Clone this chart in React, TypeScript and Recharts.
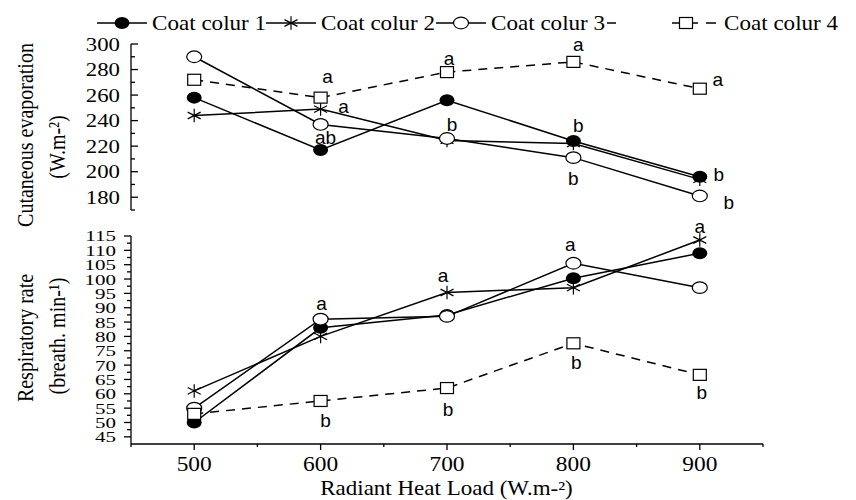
import { LabelList, Line, LineChart, XAxis, YAxis } from "recharts";

const SERIF = '"Liberation Serif", "Times New Roman", serif';
const SANS = '"Liberation Sans", Arial, sans-serif';

// radiant heat load levels (W.m-2)
const loads = [500, 600, 700, 800, 900];
const seriesNames = ["Coat colur 1", "Coat colur 2", "Coat colur 3", "Coat colur 4"];

// cutaneous evaporation (W.m-2)
const evapColour1 = [258, 217, 256, 224, 196];
const evapColour2 = [244, 249, 224.5, 222, 194];
const evapColour3 = [290, 237, 226, 211, 181];
const evapColour4 = [272, 258, 278, 286, 265];

// respiratory rate (breath. min-1)
const respColour1 = [50, 83, 87.5, 100.3, 109];
const respColour2 = [61, 80, 95.3, 97, 113.6];
const respColour3 = [55, 86, 87, 105.5, 97];
const respColour4 = [53, 57.5, 62, 77.6, 66.6];

// significance letters
const evapLetters1 = ["", "ab", "", "b", "b"];
const evapLetters2 = ["", "a", "", "", ""];
const evapLetters3 = ["", "", "b", "b", "b"];
const evapLetters4 = ["", "a", "a", "a", "a"];
const respLetters2 = ["", "", "a", "", "a"];
const respLetters3 = ["", "a", "", "a", ""];
const respLetters4 = ["", "b", "b", "b", "b"];

const xTicks = [450, 500, 550, 600, 650, 700, 750, 800, 850, 900, 950];
const xTickLabels = [500, 600, 700, 800, 900];
const evapTicks = [170, 180, 190, 200, 210, 220, 230, 240, 250, 260, 270, 280, 290, 300];
const evapTickLabels = [180, 200, 220, 240, 260, 280, 300];
const respTicks = [
  45, 47.5, 50, 52.5, 55, 57.5, 60, 62.5, 65, 67.5, 70, 72.5, 75, 77.5, 80, 82.5,
  85, 87.5, 90, 92.5, 95, 97.5, 100, 102.5, 105, 107.5, 110, 112.5, 115,
];
const respTickLabels = [45, 50, 55, 60, 65, 70, 75, 80, 85, 90, 95, 100, 105, 110, 115];

// where each letter sits relative to its point
const evapLetterPos = {
  l1: [[0, 0], [5, -12], [0, 0], [5, -15], [19, -2]],
  l2: [[0, 0], [23, -2], [0, 0], [0, 0], [0, 0]],
  l3: [[0, 0], [0, 0], [5, -13], [0, 22], [29, 7]],
  l4: [[0, 0], [7, -20], [2, -13], [5, -17], [18, -8]],
};
const respLetterPos = {
  l2: [[0, 0], [0, 0], [-4, -16], [0, 0], [0, -13]],
  l3: [[0, 0], [1, -15], [0, 0], [-3, -18], [0, 0]],
  l4: [[0, 0], [5, 20], [1, 22], [3, 20], [2, 18]],
};

const evapData = loads.map((load, i) => ({
  load,
  c1: evapColour1[i],
  c2: evapColour2[i],
  c3: evapColour3[i],
  c4: evapColour4[i],
  l1: evapLetters1[i],
  l2: evapLetters2[i],
  l3: evapLetters3[i],
  l4: evapLetters4[i],
}));

const respData = loads.map((load, i) => ({
  load,
  c1: respColour1[i],
  c2: respColour2[i],
  c3: respColour3[i],
  c4: respColour4[i],
  l2: respLetters2[i],
  l3: respLetters3[i],
  l4: respLetters4[i],
}));

type Kind = "filled" | "star" | "open" | "square";
const kinds: Kind[] = ["filled", "star", "open", "square"];

function Marker({ kind, cx, cy }: { kind: Kind; cx: number; cy: number }) {
  if (kind === "filled") return <ellipse cx={cx} cy={cy} rx={7.5} ry={6} fill="#000" />;
  if (kind === "open")
    return <ellipse cx={cx} cy={cy} rx={7.5} ry={5.8} fill="#fff" stroke="#000" strokeWidth={1.2} />;
  if (kind === "square")
    return (
      <rect x={cx - 6.5} y={cy - 5.5} width={13} height={11} fill="#fff" stroke="#000" strokeWidth={1.2} />
    );
  const r = 7.5;
  const d = [90, 30, -30]
    .map((a) => {
      const rad = (a * Math.PI) / 180;
      const dx = r * Math.cos(rad);
      const dy = r * 0.9 * Math.sin(rad);
      return `M${cx - dx},${cy + dy}L${cx + dx},${cy - dy}`;
    })
    .join("");
  return <path d={d} stroke="#000" strokeWidth={1.2} fill="none" />;
}

const dotFor = (kind: Kind) => (p: any) =>
  <Marker key={`${kind}-${p.index}`} kind={kind} cx={p.cx} cy={p.cy} />;

const letterFor = (pos: number[][]) => (p: any) => {
  if (!p.value) return null;
  const [dx, dy] = pos[p.index] ?? [0, 0];
  return (
    <text
      x={Number(p.x) + dx}
      y={Number(p.y) + dy}
      dy="0.3em"
      textAnchor="middle"
      fontFamily={SANS}
      fontSize={19}
      fill="#000"
    >
      {p.value}
    </text>
  );
};

function Stretched({
  x,
  y,
  sx = 1,
  sy = 1,
  rotate = 0,
  anchor = "middle",
  size = 20,
  children,
}: any) {
  return (
    <text
      transform={`translate(${x},${y}) rotate(${rotate}) scale(${sx},${sy})`}
      textAnchor={anchor}
      dy="0.35em"
      fontFamily={SERIF}
      fontSize={size}
      fill="#000"
    >
      {children}
    </text>
  );
}

const EvapTick = (p: any) => {
  const v = p.payload.value;
  const major = evapTickLabels.includes(v);
  return (
    <g>
      <line x1={p.x} x2={p.x + (major ? 7 : 4)} y1={p.y} y2={p.y} stroke="#000" strokeWidth={1.3} />
      {major && (
        <Stretched x={p.x - 11} y={p.y} sx={1.2} anchor="end" size={19}>
          {v}
        </Stretched>
      )}
    </g>
  );
};

const RespTick = (p: any) => {
  const v = p.payload.value;
  const major = respTickLabels.includes(v);
  return (
    <g>
      <line x1={p.x - (major ? 7 : 4)} x2={p.x} y1={p.y} y2={p.y} stroke="#000" strokeWidth={1.3} />
      {major && (
        <Stretched x={p.x - 15} y={p.y} sx={1.05} sy={0.78} anchor="end" size={20}>
          {v}
        </Stretched>
      )}
    </g>
  );
};

const XTick = (p: any) => {
  const v = p.payload.value;
  const major = xTickLabels.includes(v);
  return (
    <g>
      <line x1={p.x} x2={p.x} y1={p.y} y2={p.y + (major ? 6 : 3)} stroke="#000" strokeWidth={1.3} />
      {major && (
        <Stretched x={p.x} y={p.y + 20} sx={1.17} size={20}>
          {v}
        </Stretched>
      )}
    </g>
  );
};

const EvapTitle = () => (
  <g>
    <Stretched x={25} y={135} rotate={-90} sy={1.15}>
      Cutaneous evaporation
    </Stretched>
    <Stretched x={57} y={147} rotate={-90} sy={1.15}>
      (W.m-²)
    </Stretched>
  </g>
);

const RespTitle = () => (
  <g>
    <Stretched x={25} y={123} rotate={-90} sy={1.15}>
      Respiratory rate
    </Stretched>
    <Stretched x={57} y={121} rotate={-90} sy={1.15}>
      (breath. min-¹)
    </Stretched>
  </g>
);

const XTitle = () => (
  <Stretched x={446.5} y={273} sx={1.15}>
    Radiant Heat Load (W.m-²)
  </Stretched>
);

function LegendRow() {
  const items = [
    { line: [[97, 147]], marker: 122, text: 152 },
    { line: [[266, 316]], marker: 291, text: 321 },
    { line: [[436, 486]], marker: 461, text: 491 },
    { line: [[607, 616], [672, 698], [706, 716]], marker: 686, text: 724 },
  ];
  return (
    <svg width={856} height={40} style={{ position: "absolute", left: 0, top: 0 }}>
      {items.map((it, i) => (
        <g key={seriesNames[i]}>
          {it.line.map(([a, b]) => (
            <line key={a} x1={a} x2={b} y1={23} y2={23} stroke="#000" strokeWidth={1.5} />
          ))}
          <Marker kind={kinds[i]} cx={it.marker} cy={23} />
          <Stretched x={it.text} y={23} sx={1.1} anchor="start" size={21}>
            {seriesNames[i]}
          </Stretched>
        </g>
      ))}
    </svg>
  );
}

const axisStyle = { stroke: "#000", strokeWidth: 1.3 };

export default function App() {
  return (
    <div style={{ position: "absolute", left: 0, top: 0, width: 856, height: 500, background: "#fff" }}>
      <div style={{ position: "absolute", left: 0, top: 215 }}>
        <LineChart width={856} height={285} data={respData} margin={{ top: 21, right: 93, bottom: 0, left: 0 }}>
          <XAxis
            dataKey="load"
            type="number"
            domain={[450, 950]}
            ticks={xTicks}
            interval={0}
            height={56}
            axisLine={axisStyle}
            tickLine={false}
            tickSize={0}
            tickMargin={0}
            tick={XTick}
            label={XTitle}
          />
          <YAxis
            type="number"
            domain={[42.5, 115]}
            ticks={respTicks}
            interval={0}
            width={131}
            axisLine={axisStyle}
            tickLine={false}
            tickSize={0}
            tickMargin={0}
            tick={RespTick}
            label={RespTitle}
          />
          {["c1", "c2", "c3", "c4"].map((key, i) => {
            const pos = respLetterPos[`l${i + 1}` as keyof typeof respLetterPos];
            return (
              <Line
                key={key}
                dataKey={key}
                stroke="#000"
                strokeWidth={1.5}
                strokeDasharray={i === 3 ? "9 7" : undefined}
                dot={dotFor(kinds[i])}
                activeDot={false}
                isAnimationActive={false}
              >
                {pos && <LabelList dataKey={`l${i + 1}`} content={letterFor(pos)} />}
              </Line>
            );
          })}
        </LineChart>
      </div>
      <div style={{ position: "absolute", left: 0, top: 0 }}>
        <LineChart width={856} height={235} data={evapData} margin={{ top: 44, right: 93, bottom: 25, left: 0 }}>
          <XAxis dataKey="load" type="number" domain={[450, 950]} ticks={xTicks} hide />
          <YAxis
            type="number"
            domain={[170, 300]}
            ticks={evapTicks}
            interval={0}
            width={131}
            axisLine={axisStyle}
            tickLine={false}
            tickSize={0}
            tickMargin={0}
            tick={EvapTick}
            label={EvapTitle}
          />
          {["c1", "c2", "c3", "c4"].map((key, i) => (
            <Line
              key={key}
              dataKey={key}
              stroke="#000"
              strokeWidth={1.5}
              strokeDasharray={i === 3 ? "9 7" : undefined}
              dot={dotFor(kinds[i])}
              activeDot={false}
              isAnimationActive={false}
            >
              <LabelList
                dataKey={`l${i + 1}`}
                content={letterFor(evapLetterPos[`l${i + 1}` as keyof typeof evapLetterPos])}
              />
            </Line>
          ))}
        </LineChart>
      </div>
      <LegendRow />
    </div>
  );
}
